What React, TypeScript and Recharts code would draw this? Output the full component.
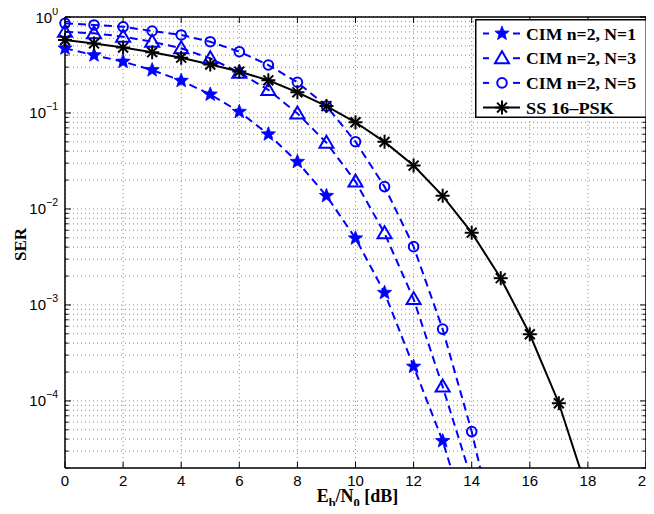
import React from "react";
import { LineChart, Line, XAxis, YAxis, CartesianGrid, Legend, Label } from "recharts";

// Eb/N0 in dB
const snr = [0, 1, 2, 3, 4, 5, 6, 7, 8, 9, 10, 11, 12, 13, 14, 15, 16, 17, 18];
// SER curves (null = no simulated point)
const cimN1 = [0.472, 0.4, 0.343, 0.28, 0.217, 0.156, 0.103, 0.06, 0.031, 0.0137, 0.00495, 0.00134, 2.28e-4, 3.83e-5, 4e-6, null, null, null, null];
const cimN3 = [0.7, 0.676, 0.624, 0.553, 0.472, 0.371, 0.263, 0.174, 0.099, 0.049, 0.0193, 0.00558, 0.00115, 1.41e-4, 1.5e-5, null, null, null, null];
const cimN5 = [0.86, 0.826, 0.79, 0.715, 0.65, 0.553, 0.435, 0.316, 0.209, 0.118, 0.0502, 0.0171, 0.00405, 5.6e-4, 4.79e-5, 2.4e-6, null, null, null];
const ss16psk = [0.575, 0.53, 0.48, 0.43, 0.377, 0.32, 0.27, 0.219, 0.164, 0.118, 0.08, 0.05, 0.0283, 0.0137, 0.00566, 0.0019, 4.95e-4, 9.46e-5, 1.1e-5];

const xTicks = [0, 2, 4, 6, 8, 10, 12, 14, 16, 18, 20];
const decades = [-5, -4, -3, -2, -1, 0];
const mantissas = [1, 2, 3, 4, 5, 6, 7, 8, 9];
const yMin = 2e-5;
const yMax = 1;

const yTicks: number[] = [];
decades.forEach(e => mantissas.forEach(m => {
  const v = Number((m * Math.pow(10, e)).toPrecision(3));
  if (v >= yMin && v <= yMax) yTicks.push(v);
}));

const data = snr.map((x, i) => ({
  x,
  n1: cimN1[i],
  n3: cimN3[i],
  n5: cimN5[i],
  ss: ss16psk[i],
}));

const BLUE = "#0000ff";
const SANS = "'Liberation Sans', Arial, Helvetica, sans-serif";
const SERIF = "'Liberation Serif', 'Times New Roman', Times, serif";

function starPts(cx: number, cy: number, ro: number, ri: number) {
  const pts: string[] = [];
  for (let k = 0; k < 10; k++) {
    const r = k % 2 ? ri : ro;
    const a = -Math.PI / 2 + (k * Math.PI) / 5;
    pts.push(`${cx + r * Math.cos(a)},${cy + r * Math.sin(a)}`);
  }
  return pts.join(" ");
}

function Marker({ kind, cx, cy }: { kind: string; cx: number; cy: number }) {
  if (kind === "star") return <polygon points={starPts(cx, cy, 7.5, 3.2)} fill={BLUE} stroke={BLUE} strokeWidth={0.8} />;
  if (kind === "tri")
    return <polygon points={`${cx},${cy - 7} ${cx + 7},${cy + 5} ${cx - 7},${cy + 5}`} fill="none" stroke={BLUE} strokeWidth={2} />;
  if (kind === "circ") return <circle cx={cx} cy={cy} r={4.8} fill="none" stroke={BLUE} strokeWidth={2} />;
  const r = 7;
  const d = r * 0.707;
  return (
    <g stroke="#000" strokeWidth={2}>
      <line x1={cx - r} y1={cy} x2={cx + r} y2={cy} />
      <line x1={cx} y1={cy - r} x2={cx} y2={cy + r} />
      <line x1={cx - d} y1={cy - d} x2={cx + d} y2={cy + d} />
      <line x1={cx - d} y1={cy + d} x2={cx + d} y2={cy - d} />
    </g>
  );
}

const dotFor = (kind: string) => (p: any) => {
  if (p.cx == null || p.cy == null || p.value == null) return <g key={`${kind}-${p.index}`} />;
  return (
    <g key={`${kind}-${p.index}`}>
      <Marker kind={kind} cx={p.cx} cy={p.cy} />
    </g>
  );
};

const series = [
  { key: "n1", name: "CIM n=2, N=1", color: BLUE, dash: "8 5", kind: "star", labelW: 110 },
  { key: "n3", name: "CIM n=2, N=3", color: BLUE, dash: "8 5", kind: "tri", labelW: 110 },
  { key: "n5", name: "CIM n=2, N=5", color: BLUE, dash: "8 5", kind: "circ", labelW: 110 },
  { key: "ss", name: "SS 16\u2013PSK", color: "#000", dash: undefined, kind: "ast", labelW: 88 },
];

const isDecade = (v: number) => Math.abs(Math.log10(v) - Math.round(Math.log10(v))) < 1e-6;

const Y_MARGIN = 5;
function LeftTick(props: any) {
  const { x, y, payload } = props;
  const v = payload.value;
  const major = isDecade(v);
  const ax = x + Y_MARGIN;
  const e = Math.round(Math.log10(v));
  return (
    <g>
      <line x1={ax} x2={ax + (major ? 6 : 3.5)} y1={y} y2={y} stroke="#000" />
      {major && (
        <text x={x - 2} y={y + 5.5} textAnchor="end" fontFamily={SANS} fontSize={15} fill="#000">
          10
          <tspan dy={-8} fontSize={10.5}>{e === 0 ? "0" : `\u2212${-e}`}</tspan>
        </text>
      )}
    </g>
  );
}

function RightTick(props: any) {
  const { x, y, payload } = props;
  const major = isDecade(payload.value);
  return <line x1={x} x2={x - (major ? 6 : 3.5)} y1={y} y2={y} stroke="#000" />;
}

function BottomTick(props: any) {
  const { x, y, payload } = props;
  return (
    <g>
      <line x1={x} x2={x} y1={y} y2={y - 6} stroke="#000" />
      <text x={x} y={y + 17.5} textAnchor="middle" fontFamily={SANS} fontSize={15} fill="#000">
        {payload.value}
      </text>
    </g>
  );
}

function TopTick(props: any) {
  const { x, y } = props;
  return <line x1={x} x2={x} y1={y} y2={y + 6} stroke="#000" />;
}

function LegendBox() {
  const w = 172;
  const h = 99;
  return (
    <svg width={w} height={h} style={{ display: "block" }}>
      <rect x={0.75} y={0.75} width={w - 1.5} height={h - 1.5} fill="#fff" stroke="#000" strokeWidth={1.5} />
      {series.map((s, i) => {
        const cy = 14.5 + i * 24.7;
        return (
          <g key={s.key}>
            {s.dash ? (
              <g stroke={s.color} strokeWidth={2}>
                <line x1={8} x2={14} y1={cy} y2={cy} />
                <line x1={38} x2={45} y1={cy} y2={cy} />
              </g>
            ) : (
              <line x1={8} x2={45} y1={cy} y2={cy} stroke={s.color} strokeWidth={2} />
            )}
            <Marker kind={s.kind} cx={27} cy={cy} />
            <text
              x={51}
              y={cy + 6}
              fontFamily={SERIF}
              fontWeight="bold"
              fontSize={17.5}
              fill="#000"
              textLength={s.labelW}
              lengthAdjust="spacingAndGlyphs"
            >
              {s.name}
            </text>
          </g>
        );
      })}
    </svg>
  );
}

export default function App() {
  return (
    <div style={{ margin: -8, width: 654, height: 514, background: "#fff", overflow: "hidden" }}>
      <LineChart width={654} height={514} data={data} margin={{ top: 16, right: 7, bottom: 0, left: 0 }}>
        <CartesianGrid stroke="#8a8a8a" strokeDasharray="1 3" strokeWidth={1} />
        <XAxis
          dataKey="x"
          type="number"
          domain={[0, 20]}
          ticks={xTicks}
          height={46}
          tickSize={0}
          tickMargin={0}
          tickLine={false}
          tick={<BottomTick />}
          axisLine={{ stroke: "#000", strokeWidth: 1.5 }}
          interval={0}
        >
          <Label
            content={(p: any) => {
              const vb = p.viewBox;
              return (
                <text x={vb.x + vb.width / 2 + 2} y={vb.y + 34} textAnchor="middle" fontFamily={SERIF} fontWeight="bold" fontSize={18} fill="#000">
                  E<tspan dy={5} fontSize={12.5}>b</tspan>
                  <tspan dy={-5}>/N</tspan>
                  <tspan dy={5} fontSize={12.5}>0</tspan>
                  <tspan dy={-5}> [dB]</tspan>
                </text>
              );
            }}
          />
        </XAxis>
        <XAxis
          xAxisId="top"
          orientation="top"
          dataKey="x"
          type="number"
          domain={[0, 20]}
          ticks={xTicks}
          height={1}
          tickSize={0}
          tickMargin={0}
          tickLine={false}
          tick={<TopTick />}
          axisLine={{ stroke: "#000", strokeWidth: 1.5 }}
          interval={0}
        />
        <YAxis
          scale="log"
          type="number"
          domain={[yMin, yMax]}
          allowDataOverflow
          ticks={yTicks}
          width={65}
          tickSize={0}
          tickMargin={Y_MARGIN}
          tickLine={false}
          tick={<LeftTick />}
          axisLine={{ stroke: "#000", strokeWidth: 1.5 }}
          interval={0}
        >
          <Label
            content={(p: any) => {
              const vb = p.viewBox;
              const cx = vb.x + 20;
              const cy = vb.y + vb.height / 2 + 2;
              return (
                <text x={cx} y={cy} transform={`rotate(-90 ${cx} ${cy})`} textAnchor="middle" dominantBaseline="central" fontFamily={SERIF} fontWeight="bold" fontSize={17} fill="#000">
                  SER
                </text>
              );
            }}
          />
        </YAxis>
        <YAxis
          yAxisId="right"
          orientation="right"
          scale="log"
          type="number"
          domain={[yMin, yMax]}
          allowDataOverflow
          ticks={yTicks}
          width={1}
          tickSize={0}
          tickMargin={0}
          tickLine={false}
          tick={<RightTick />}
          axisLine={{ stroke: "#000", strokeWidth: 1.5 }}
          interval={0}
        />
        {series.map(s => (
          <Line
            key={s.key}
            dataKey={s.key}
            name={s.name}
            stroke={s.color}
            strokeWidth={2}
            strokeDasharray={s.dash}
            type="linear"
            dot={dotFor(s.kind)}
            activeDot={false}
            connectNulls={false}
            isAnimationActive={false}
          />
        ))}
        <Legend
          layout="vertical"
          align="center"
          verticalAlign="middle"
          wrapperStyle={{ top: 19, left: 475, width: 172 }}
          content={() => <LegendBox />}
        />
      </LineChart>
    </div>
  );
}
